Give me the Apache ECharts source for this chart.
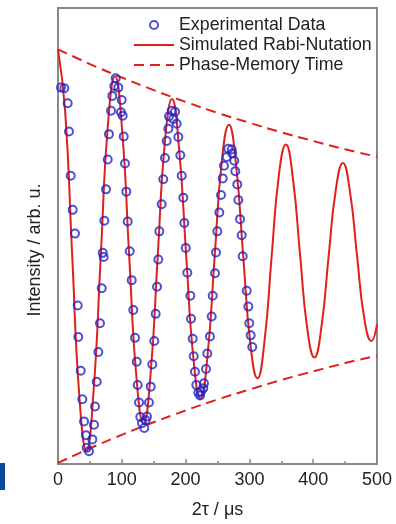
<!DOCTYPE html>
<html>
<head>
<meta charset="utf-8">
<script src="https://cdn.jsdelivr.net/npm/echarts@6/dist/echarts.min.js"></script>
<style>
  html, body { margin: 0; padding: 0; background: #fff; }
  #chart { width: 396px; height: 524px; }
</style>
</head>
<body>
<div id="chart"></div>
<script>
const expT = [4.7, 9.9, 15.2, 17.2, 19.9, 23.0, 26.6, 30.9, 31.8, 35.6, 38.1, 40.8, 43.9, 45.0, 48.6,
  53.8, 56.4, 58.0, 60.7, 63.2, 65.8, 68.5, 70.1, 71.6, 72.6, 75.2, 77.9, 79.9, 83.1, 85.1, 88.2, 90.4,
  94.5, 98.7, 99.8, 101.4, 103.0, 105.0, 107.1, 109.2, 112.4, 115.5, 118.0, 120.7, 123.4, 124.9, 127.0,
  129.0, 131.7, 135.3, 137.5, 139.5, 142.6, 145.3, 147.8, 150.9, 153.1, 155.2, 157.2, 158.8, 162.5,
  165.0, 167.7, 170.4, 172.9, 174.0, 178.2, 180.7, 183.4, 186.0, 188.6, 191.7, 193.9, 196.4, 198.0,
  200.2, 202.7, 207.4, 208.5, 211.1, 212.7, 214.7, 216.8, 219.9, 222.6, 224.1, 227.7, 228.8, 232.0,
  234.0, 238.2, 240.9, 242.5, 246.1, 247.6, 249.7, 252.8, 255.5, 258.2, 260.2, 264.4, 266.9, 272.3,
  273.2, 276.3, 277.9, 281.0, 282.6, 285.3, 287.9, 289.5, 295.8, 298.3, 299.8, 302.0, 304.5];
const expY = [0.815, 0.812, 0.739, 0.603, 0.389, 0.224, 0.109, -0.239, -0.391, -0.554, -0.692, -0.799, -0.866, -0.927, -0.943,
  -0.886, -0.815, -0.727, -0.607, -0.463, -0.324, -0.155, 0.016, -0.004, 0.171, 0.323, 0.467, 0.590, 0.703, 0.775, 0.823, 0.860,
  0.815, 0.696, 0.755, 0.679, 0.579, 0.448, 0.312, 0.168, 0.024, -0.116, -0.260, -0.395, -0.511, -0.623, -0.708,
  -0.778, -0.808, -0.831, -0.794, -0.775, -0.708, -0.631, -0.524, -0.410, -0.279, -0.148, -0.016, 0.120, 0.251,
  0.372, 0.475, 0.557, 0.616, 0.676, 0.703, 0.663, 0.698, 0.640, 0.576, 0.488, 0.389, 0.283, 0.160,
  0.040, -0.080, -0.191, -0.303, -0.399, -0.484, -0.559, -0.623, -0.660, -0.674, -0.655, -0.639, -0.615, -0.546,
  -0.471, -0.388, -0.292, -0.191, -0.083, 0.018, 0.120, 0.211, 0.296, 0.376, 0.437, 0.480, 0.520, 0.516,
  0.496, 0.461, 0.411, 0.347, 0.272, 0.179, 0.101, 0.000, -0.167, -0.244, -0.324, -0.383, -0.439];

// simulated Rabi nutation curve (red line)
const simT = [0, 11.2, 22.3, 33.5, 44.6, 55.8, 67, 78.1, 89.3, 100.5, 111.6, 122.8, 134, 145.1, 156.3,
  167.5, 178.6, 189.8, 201, 212.1, 223.3, 234.4, 245.6, 256.8, 267.9, 279.1, 290.3, 301.4, 312.6, 323.7,
  334.9, 346.1, 357.2, 368.4, 379.6, 390.7, 401.9, 413, 424.2, 435.4, 446.5, 457.7, 468.8, 480, 491.2, 500];
const simY = [1.00, 0.70, 0, -0.68, -0.94, -0.65, 0, 0.63, 0.87, 0.61, 0, -0.58, -0.81, -0.57, 0,
  0.55, 0.76, 0.52, 0, -0.49, -0.69, -0.48, 0, 0.46, 0.635, 0.44, 0, -0.42, -0.59, -0.41,
  0, 0.39, 0.54, 0.37, 0, -0.35, -0.49, -0.34, 0, 0.32, 0.45, 0.31, 0, -0.30, -0.41, -0.33];

// phase-memory envelope (dashed)
const envT = [0, 50, 100, 150, 200, 250, 300, 350, 400, 450, 500];
const envUp = [1.00, 0.929, 0.864, 0.803, 0.746, 0.693, 0.645, 0.599, 0.557, 0.517, 0.481];
const envLow = [-1.00, -0.929, -0.864, -0.803, -0.746, -0.693, -0.645, -0.599, -0.557, -0.517, -0.481];

const xTicks = [0, 100, 200, 300, 400, 500];
const names = ['Experimental Data', 'Simulated Rabi-Nutation', 'Phase-Memory Time'];

const red = '#e0201c';
const blue = '#2424c4';
const font = "'Liberation Sans', Arial, sans-serif";

const zip = (a, b) => a.map((v, i) => [v, b[i]]);

const chart = echarts.init(document.getElementById('chart'));

chart.setOption({
  animation: false,
  textStyle: { fontFamily: font },
  grid: {
    left: 58, right: 19, top: 8, bottom: 57,
    show: true, borderColor: '#888', borderWidth: 2
  },
  legend: {
    orient: 'vertical',
    left: 128,
    top: 11,
    align: 'left',
    itemWidth: 40,
    itemHeight: 8,
    itemGap: 2,
    textStyle: { fontSize: 17.8, color: '#222', fontFamily: font },
    data: [
      { name: names[0] },
      { name: names[1], itemStyle: { opacity: 0 } },
      { name: names[2], itemStyle: { opacity: 0 } }
    ]
  },
  xAxis: {
    type: 'value',
    min: xTicks[0],
    max: xTicks[xTicks.length - 1],
    interval: xTicks[1] - xTicks[0],
    name: '2τ / μs',
    nameLocation: 'middle',
    nameGap: 37,
    nameTextStyle: { fontSize: 18, color: '#222', fontFamily: font },
    axisLine: { onZero: false, lineStyle: { color: '#888', width: 2 } },
    axisTick: { inside: true, length: 5, lineStyle: { color: '#888', width: 1.5 } },
    minorTick: { show: true, splitNumber: 2, length: 3, lineStyle: { color: '#888', width: 1.5 } },
    axisLabel: { fontSize: 18, color: '#222', margin: 7, fontFamily: font },
    splitLine: { show: false }
  },
  yAxis: {
    type: 'value',
    min: -1.005,
    max: 1.2,
    axisLine: { show: false },
    axisTick: { show: false },
    axisLabel: { show: false },
    splitLine: { show: false }
  },
  graphic: [
    {
      type: 'text',
      x: 35, y: 250,
      rotation: Math.PI / 2,
      style: {
        text: 'Intensity / arb. u.',
        fontSize: 18,
        fontFamily: font,
        fill: '#222',
        align: 'center',
        verticalAlign: 'middle'
      }
    },
    {
      type: 'rect',
      shape: { x: 0, y: 463, width: 5, height: 27 },
      style: { fill: '#0d4a9e' }
    }
  ],
  series: [
    {
      name: names[1],
      type: 'line',
      data: zip(simT, simY),
      smooth: true,
      symbol: 'none',
      color: red,
      lineStyle: { color: red, width: 2 },
      z: 2
    },
    {
      name: names[2],
      type: 'line',
      data: zip(envT, envUp),
      smooth: true,
      symbol: 'none',
      color: red,
      lineStyle: { color: red, width: 2, type: [10, 6] },
      z: 2
    },
    {
      name: names[2],
      type: 'line',
      data: zip(envT, envLow),
      smooth: true,
      symbol: 'none',
      color: red,
      lineStyle: { color: red, width: 2, type: [10, 6] },
      z: 2
    },
    {
      name: names[0],
      type: 'scatter',
      data: zip(expT, expY),
      symbol: 'circle',
      symbolSize: 8,
      itemStyle: { color: 'rgba(255,255,255,0)', borderColor: blue, borderWidth: 2 },
      z: 3
    }
  ]
});
</script>
</body>
</html>
